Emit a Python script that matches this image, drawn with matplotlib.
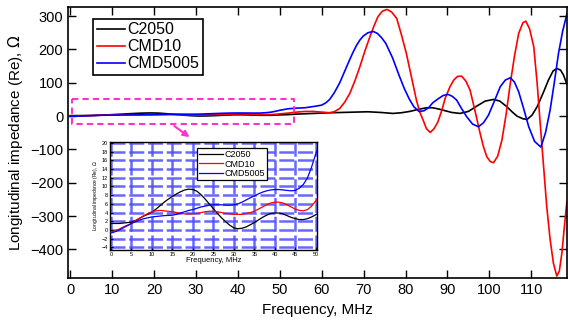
import matplotlib
matplotlib.use("Agg")
from matplotlib import pyplot as plt
import numpy as np

plt.rcParams['font.family'] = ['Liberation Sans', 'DejaVu Sans']

# 0..50 MHz, above that from the main plot
f_low = list(range(0, 51))

c2050_low = [1.5, 1.5, 1.5, 1.6, 1.7, 1.8, 2.2, 2.7, 3.2, 3.6, 4.1, 4.8, 5.6, 6.4, 7.1, 7.7, 8.3,
             8.8, 9.2, 9.4, 9.3, 8.9, 8.1, 7.1, 6.0, 4.9, 3.8, 2.8, 1.9, 1.1, 0.5, 0.3, 0.4, 0.7,
             1.2, 1.7, 2.3, 2.9, 3.4, 3.8, 3.9, 3.9, 3.7, 3.3, 2.9, 2.6, 2.4, 2.4, 2.6, 3.0, 3.5]
cmd10_low = [-0.5, -0.2, 0.2, 0.7, 1.1, 1.5, 2.1, 2.7, 3.3, 3.8, 4.2, 4.4, 4.5, 4.4, 4.3, 4.2, 4.0,
             3.8, 3.7, 3.7, 3.7, 3.8, 4.0, 4.2, 4.3, 4.3, 4.2, 4.0, 3.8, 3.7, 3.6, 3.6, 3.6, 3.8,
             4.0, 4.3, 4.8, 5.3, 5.8, 6.2, 6.4, 6.4, 6.2, 5.8, 5.3, 4.8, 4.5, 4.4, 4.7, 5.5, 6.7]
cmd5005_low = [-0.7, -0.4, 0.0, 0.5, 1.0, 1.5, 1.9, 2.3, 2.6, 2.8, 3.0, 3.1, 3.2, 3.3, 3.35, 3.4,
               3.6, 3.9, 4.2, 4.5, 4.7, 5.0, 5.3, 5.5, 5.7, 5.8, 5.8, 5.8, 5.7, 5.7, 5.8, 6.0, 6.4,
               6.9, 7.4, 7.8, 8.3, 8.7, 9.0, 9.2, 9.3, 9.3, 9.2, 9.1, 9.0, 9.1, 9.6, 10.5, 12.0,
               14.5, 17.5]

f_c2050_hi = [51, 52, 54, 56, 58, 60, 62, 65, 68, 71, 74, 77, 79, 81, 83, 85, 86.5, 88, 89.5, 91,
              93, 95, 97, 99, 101, 102.5, 104.2, 105.5, 106.6, 108, 109, 110.2, 111.4, 112.8,
              114.1, 115.2, 116.1, 117, 117.7, 118.5]
c2050_hi = [4, 4.5, 6, 7, 8, 9, 10, 11, 12, 13, 11, 8, 10, 14, 20, 25, 25, 21, 16, 11,
            8, 14, 30, 45, 50, 45, 28, 12, 0, -8, -10, 3, 28, 68,
            108, 135, 143, 138, 123, 96]

f_cmd10_hi = [52, 54, 56, 58, 60, 61.9, 63, 64.3, 65.5, 66.7, 67.9, 69.1, 70.3, 71.5, 72.4, 73.4,
              74.5, 75.6, 76.7, 77.9, 79, 80.2, 81.4, 82.6, 83.4, 84.2, 85, 85.9, 86.8, 87.7,
              88.6, 89.5, 90.6, 91.5, 92.4, 93.4, 94.4, 95.4, 96.6, 97.8, 98.6, 99.4, 100.2, 101,
              102, 103, 104, 105, 106, 107, 108, 108.7, 109.6, 110.6, 111.4, 112.2, 113, 113.7,
              114.5, 115.3, 116.1, 116.7, 117.3, 118, 118.5]
cmd10_hi = [9, 12, 14, 14, 12, 10, 13, 23, 42, 68, 105, 148, 195, 238, 268, 298,
            315, 320, 312, 293, 245, 188, 118, 48, 12, -12, -38, -49, -38, -18,
            15, 55, 88, 108, 119, 120, 105, 78, 15, -52, -92, -122, -136, -140,
            -120, -72, 5, 98, 180, 248, 280, 285, 262, 208, 100, -32, -160, -272,
            -370, -442, -480, -465, -412, -320, -257]

f_cmd5005_hi = [52, 54, 56, 58.7, 60, 61, 61.9, 63, 64.3, 65.5, 66.7, 67.5, 68.3, 69.1, 69.9, 71,
                72.3, 73.3, 74.3, 75.3, 76.9, 78.5, 79.7, 80.9, 82, 83.2, 84.4, 85.5, 86.5, 87.8,
                89, 90.2, 91.2, 92.2, 93.4, 94.6, 96, 97.4, 98.6, 99.8, 101.2, 102.6, 103.8, 105,
                106, 107, 108.2, 109.4, 110.8, 112.3, 113.4, 114.5, 115.5, 116.5, 117.5, 118.5]
cmd5005_hi = [22, 24, 25, 30, 33, 40, 50, 70, 100, 135, 170, 192, 212, 228, 240, 250,
              254, 248, 235, 218, 175, 121, 83, 51, 28, 14, 16, 25, 40, 52,
              62, 65, 59, 48, 22, -2, -24, -32, -20, 3, 45, 88, 108, 115,
              102, 73, 22, -32, -76, -93, -50, 18, 100, 188, 255, 306]

series = [
    ("C2050", "black", f_low + f_c2050_hi, c2050_low + c2050_hi),
    ("CMD10", "red", f_low + f_cmd10_hi, cmd10_low + cmd10_hi),
    ("CMD5005", "blue", f_low + f_cmd5005_hi, cmd5005_low + cmd5005_hi),
]

fig = plt.figure(figsize=(5.68, 3.23), dpi=100)
ax = fig.add_axes([0.120, 0.138, 0.878, 0.840])

for name, col, fx, fy in series:
    ax.plot(fx, fy, color=col, lw=1.2, label=name)

ax.set_xlim(-0.5, 118.5)
ax.set_ylim(-487, 327)
ax.set_xticks(np.arange(0, 111, 10))
ax.set_yticks(np.arange(-400, 301, 100))
ax.tick_params(direction='in', top=True, right=True, length=6, width=1, labelsize=10.5)
for s in ax.spines.values():
    s.set_linewidth(1.2)
ax.set_xlabel("Frequency, MHz", fontsize=11)
ax.set_ylabel("Longitudinal impedance (Re), $\\Omega$", fontsize=11)

leg = ax.legend(loc='upper left', bbox_to_anchor=(0.05, 0.958), fontsize=11.5,
                handlelength=1.75, handletextpad=0.15, borderpad=0.25, labelspacing=0.12,
                borderaxespad=0, fancybox=False, framealpha=1, edgecolor='black')
leg.get_frame().set_linewidth(1.2)

# dashed magenta box marking the zoomed region
ax.plot([0.3, 53.3, 53.3, 0.3, 0.3], [51, 51, -24, -24, 51], color='#ff33cc', lw=1.5,
        ls=(0, (3, 2)))
ax.annotate("", xy=(29.0, -68), xytext=(24.3, -25),
            arrowprops=dict(arrowstyle='-|>', color='#ff33cc', lw=1.5, mutation_scale=9))

# inset
ins = fig.add_axes([0.194, 0.226, 0.364, 0.334])
for name, col, fx, fy in series:
    ins.plot(fx, fy, color=col, lw=0.9, label=name, zorder=3)
ins.set_xlim(-0.2, 50.3)
ins.set_ylim(-4.6, 20.2)
ins.set_xticks(np.arange(0, 51, 5))
ins.set_yticks(np.arange(-4, 21, 2))
ins.grid(True, color=(0.3, 0.3, 1.0), lw=1.8, ls=(0, (6, 1.5)), alpha=0.85)
ins.tick_params(direction='in', labelsize=4, length=2, pad=1.5)
for s in ins.spines.values():
    s.set_linewidth(1.0)
ins.set_xlabel("Frequency, MHz", fontsize=5.5, labelpad=0)
ins.set_ylabel("Longitudinal impedance (Re), $\\Omega$", fontsize=3.5, labelpad=1)
ileg = ins.legend(loc='upper left', bbox_to_anchor=(0.40, 0.985), fontsize=6.5,
                  handlelength=2.6, handletextpad=0.2, borderpad=0.2, labelspacing=0.05,
                  fancybox=False, framealpha=1, edgecolor='black')
ileg.get_frame().set_linewidth(0.9)

fig.savefig("out.png", dpi=100)
